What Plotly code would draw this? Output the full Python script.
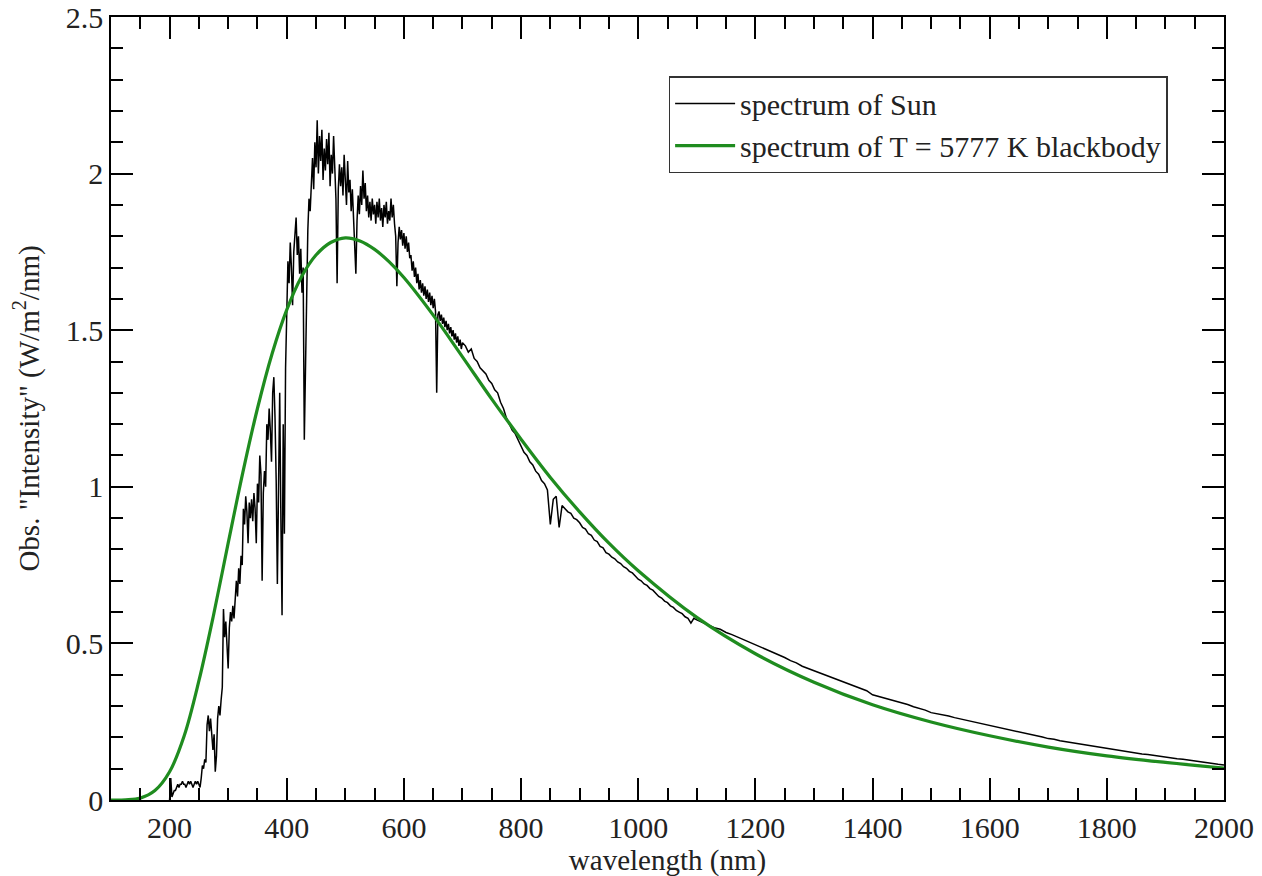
import plotly.graph_objects as go

# ---------------- data ----------------
# Observed solar spectrum, 200-700 nm every 2 nm
sun_wl_a = list(range(200, 702, 2))
sun_val_a = [
    0.00, 0.07, 0.01, 0.02, 0.03, 0.03, 0.04, 0.05, 0.04, 0.05,   # 200-218
    0.05, 0.06, 0.05, 0.05, 0.04, 0.05, 0.06, 0.05, 0.06, 0.05,   # 220-238
    0.04, 0.05, 0.06, 0.05, 0.06, 0.05, 0.04, 0.07, 0.11, 0.10,   # 240-258
    0.13, 0.12, 0.24, 0.27, 0.22, 0.26, 0.20, 0.16, 0.21, 0.09,   # 260-278
    0.14, 0.26, 0.30, 0.27, 0.32, 0.36, 0.61, 0.52, 0.57, 0.48,   # 280-298
    0.42, 0.55, 0.60, 0.57, 0.62, 0.58, 0.66, 0.70, 0.65, 0.74,   # 300-318
    0.69, 0.78, 0.75, 0.93, 0.88, 0.97, 0.92, 0.82, 0.95, 0.90,   # 320-338
    0.96, 0.89, 0.98, 0.93, 0.82, 1.01, 0.95, 1.10, 1.04, 0.70,   # 340-358
    0.98, 1.05, 1.00, 1.20, 1.15, 1.25, 1.18, 1.08, 1.30, 1.35,   # 360-378
    1.22, 1.02, 0.69, 1.10, 1.30, 0.90, 0.59, 1.20, 0.85, 1.38,   # 380-398
    1.52, 1.72, 1.65, 1.78, 1.70, 1.58, 1.75, 1.82, 1.86, 1.74,   # 400-418
    1.80, 1.68, 1.76, 1.62, 1.70, 1.15, 1.45, 1.60, 1.82, 1.92,   # 420-438
    1.88, 1.98, 2.05, 1.95, 2.10, 2.02, 2.17, 2.00, 2.12, 2.04,   # 440-458
    2.14, 1.98, 2.08, 2.01, 2.11, 2.03, 2.13, 1.96, 2.06, 2.00,   # 460-478
    2.12, 2.02, 1.92, 1.65, 1.95, 2.03, 1.96, 2.02, 1.93, 2.06,   # 480-498
    1.97, 1.90, 2.04, 1.94, 1.98, 1.88, 1.95, 1.86, 1.78, 1.68,   # 500-518
    1.85, 1.93, 1.87, 1.96, 1.90, 2.01, 1.92, 1.97, 1.88, 1.93,   # 520-538
    1.86, 1.91, 1.85, 1.92, 1.87, 1.90, 1.84, 1.91, 1.86, 1.92,   # 540-558
    1.85, 1.89, 1.83, 1.90, 1.86, 1.91, 1.84, 1.88, 1.85, 1.92,   # 560-578
    1.86, 1.90, 1.84, 1.80, 1.64, 1.78, 1.83, 1.79, 1.82, 1.77,   # 580-598
    1.81, 1.76, 1.80, 1.75, 1.78, 1.73, 1.74, 1.69, 1.72, 1.67,   # 600-618
    1.70, 1.65, 1.68, 1.63, 1.66, 1.62, 1.65, 1.61, 1.64, 1.60,   # 620-638
    1.63, 1.59, 1.62, 1.58, 1.61, 1.57, 1.60, 1.56, 1.30, 1.55,   # 640-658
    1.56, 1.53, 1.55, 1.52, 1.54, 1.51, 1.53, 1.50, 1.52, 1.49,   # 660-678
    1.51, 1.48, 1.50, 1.47, 1.49, 1.46, 1.48, 1.45, 1.47, 1.44,   # 680-698
    1.46,                                                         # 700
]

# 705-1100 nm every 5 nm
sun_wl_b = list(range(705, 1105, 5))
sun_val_b = [
    1.45, 1.43, 1.44, 1.41, 1.40, 1.38, 1.37, 1.36, 1.34, 1.33,   # 705-750
    1.31, 1.30, 1.27, 1.25, 1.22, 1.20, 1.18, 1.17, 1.15, 1.13,   # 755-800
    1.11, 1.10, 1.08, 1.07, 1.05, 1.04, 1.02, 1.01, 0.99, 0.88,   # 805-850
    0.96, 0.97, 0.87, 0.94, 0.93, 0.92, 0.915, 0.90, 0.895, 0.885,  # 855-900
    0.87, 0.865, 0.85, 0.845, 0.83, 0.825, 0.81, 0.805, 0.79, 0.785,  # 905-950
    0.775, 0.77, 0.76, 0.755, 0.745, 0.74, 0.73, 0.725, 0.715, 0.705,  # 955-1000
    0.70, 0.69, 0.685, 0.675, 0.67, 0.66, 0.65, 0.645, 0.635, 0.63,  # 1005-1050
    0.62, 0.615, 0.605, 0.60, 0.595, 0.585, 0.58, 0.565, 0.58, 0.575,  # 1055-1100
]

# 1110-2000 nm every 10 nm
sun_wl_c = list(range(1110, 2010, 10))
sun_val_c = [
    0.567, 0.560, 0.550, 0.545, 0.535, 0.528, 0.520, 0.512, 0.503, 0.495,  # 1110-1200
    0.487, 0.478, 0.472, 0.462, 0.455, 0.445, 0.438, 0.427, 0.420, 0.411,  # 1210-1300
    0.404, 0.397, 0.390, 0.384, 0.376, 0.370, 0.363, 0.355, 0.349, 0.336,  # 1310-1400
    0.331, 0.326, 0.320, 0.316, 0.309, 0.305, 0.298, 0.293, 0.287, 0.279,  # 1410-1500
    0.276, 0.271, 0.268, 0.263, 0.259, 0.255, 0.250, 0.247, 0.242, 0.238,  # 1510-1600
    0.234, 0.229, 0.226, 0.221, 0.218, 0.213, 0.210, 0.205, 0.201, 0.196,  # 1610-1700
    0.194, 0.189, 0.186, 0.183, 0.179, 0.176, 0.173, 0.170, 0.166, 0.163,  # 1710-1800
    0.161, 0.158, 0.156, 0.152, 0.150, 0.147, 0.145, 0.142, 0.139, 0.137,  # 1810-1900
    0.135, 0.132, 0.130, 0.127, 0.125, 0.122, 0.120, 0.117, 0.114, 0.112,  # 1910-2000
]

# T = 5777 K blackbody curve
bb_wl = [100, 125, 150, 175, 200, 225, 250, 275, 300, 325, 350, 375, 400,
         425, 450, 475, 500, 525, 550, 575, 600, 650, 700, 750, 800, 850,
         900, 950, 1000, 1100, 1200, 1300, 1400, 1500, 1600, 1700, 1800,
         1900, 2000]
bb_val = [0.0, 0.0006, 0.006, 0.03, 0.09, 0.205, 0.38, 0.59, 0.82, 1.045,
          1.25, 1.425, 1.565, 1.67, 1.74, 1.78, 1.795, 1.785, 1.758, 1.718,
          1.668, 1.548, 1.415, 1.28, 1.152, 1.03, 0.92, 0.82, 0.732, 0.583,
          0.467, 0.376, 0.304, 0.249, 0.205, 0.169, 0.141, 0.12, 0.102]

sun_wl = sun_wl_a + sun_wl_b + sun_wl_c
sun_val = sun_val_a + sun_val_b + sun_val_c

x_title = "wavelength (nm)"
y_title = 'Obs. "Intensity" (W/m<sup>2</sup>/nm)'
names = ["spectrum of Sun", "spectrum of T = 5777 K blackbody"]

FONT = "'Liberation Serif', 'Times New Roman', 'DejaVu Serif', serif"
GREEN = "#1f8c1f"
TXT = "#222222"

fig = go.Figure()
fig.add_trace(go.Scatter(x=sun_wl, y=sun_val, mode="lines", name=names[0],
                         line=dict(color="black", width=1.5)))
fig.add_trace(go.Scatter(x=bb_wl, y=bb_val, mode="lines", name=names[1],
                         line=dict(color=GREEN, width=3.2, shape="spline")))

axis_common = dict(
    showgrid=False, zeroline=False, showline=True, linecolor="black",
    linewidth=1.6, mirror="allticks", ticks="inside", ticklen=22,
    tickwidth=1.5, tickcolor="black", automargin=False,
    ticklabeloverflow="allow",
    tickfont=dict(family=FONT, size=30, color=TXT),
)

# the page body adds an 8 px offset, so margins are shifted to compensate
fig.update_layout(
    width=1262, height=876,
    margin=dict(l=103, r=46, t=9, b=84, pad=0),
    paper_bgcolor="white", plot_bgcolor="white",
    font=dict(family=FONT, color=TXT, size=29),
    showlegend=True,
    legend=dict(x=0.501, y=0.9246, xanchor="left", yanchor="top",
                bgcolor="white", bordercolor="#333333", borderwidth=1.5,
                font=dict(family=FONT, size=30, color=TXT),
                tracegroupgap=0, itemwidth=60),
    xaxis=dict(range=[100, 2000], tick0=0, dtick=200,
               minor=dict(dtick=50, ticklen=12, tickwidth=1.5, ticks="inside",
                          tickcolor="black", showgrid=False),
               title=dict(text=x_title, font=dict(family=FONT, size=29, color=TXT),
                          standoff=0),
               **axis_common),
    yaxis=dict(range=[0, 2.5], tick0=0, dtick=0.5,
               minor=dict(dtick=0.1, ticklen=12, tickwidth=1.5, ticks="inside",
                          tickcolor="black", showgrid=False),
               title=dict(text=y_title, font=dict(family=FONT, size=29, color=TXT),
                          standoff=18),
               **axis_common),
)

fig.write_html("out.html")
